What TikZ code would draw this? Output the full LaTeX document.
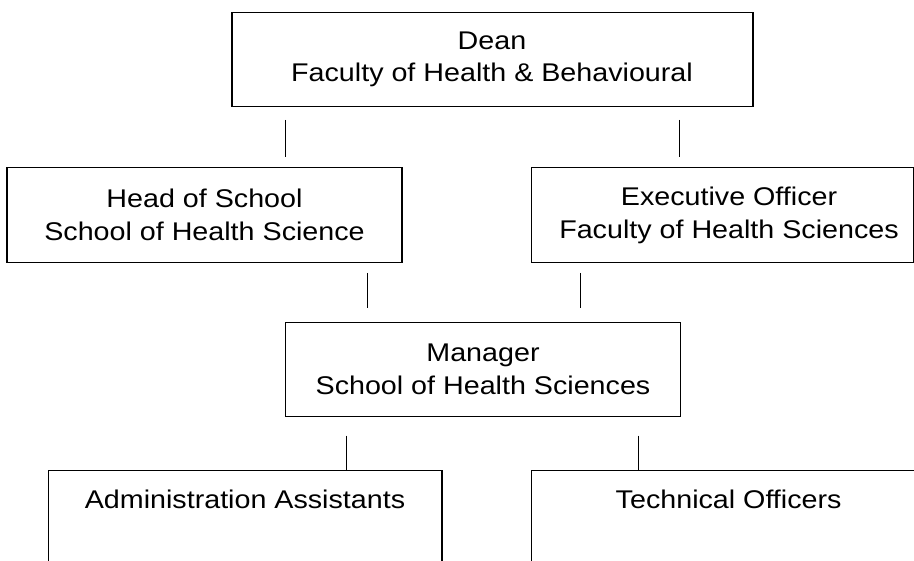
\documentclass[tikz,border=0pt]{standalone}
\usepackage{fontspec}
\setmainfont{Liberation Sans}[FakeStretch=1.12]
\begin{document}
\begin{tikzpicture}[x=1pt,y=-1pt,
  box/.style={draw, line width=1.5pt, inner sep=0pt},
  link/.style={line width=1pt},
  lbl/.style={font=\fontsize{25.6}{32.7}\selectfont, align=center, inner sep=0pt}]
\useasboundingbox (0,0) rectangle (914,561);
\clip (0,0) rectangle (914,561);
% boxes
\node[box, minimum width=521, minimum height=94.4] (dean) at (492.5,59.5) {};
\node[box, minimum width=395, minimum height=95] (head) at (204.5,215.2) {};
\node[box, minimum width=381.9, minimum height=95] (exec) at (722.55,215.2) {};
\node[box, minimum width=394.7, minimum height=94.4] (mgr) at (483,369.5) {};
\node[box, minimum width=393.6, minimum height=129.3] (admin) at (245.2,535.35) {};
\node[box, minimum width=418.4, minimum height=129.3] (tech) at (740.8,535.35) {};
% texts
\node[lbl] (deantxt) at (492,59.5) {Dean\\Faculty of Health \& Behavioural};
\node[lbl] (headtxt) at (204.5,215.2) {Head of School\\School of Health Science};
\node[lbl] (exectxt) at (729,215.2) {Executive Officer\\Faculty of Health Sciences};
\node[lbl] (mgrtxt) at (483,369.5) {Manager\\School of Health Sciences};
\node[lbl, anchor=base] (admintxt) at (245,508) {Administration Assistants};
\node[lbl, anchor=base] (techtxt) at (728.6,508) {Technical Officers};
% connectors
\coordinate (c1a) at (285.6,120); \coordinate (c1b) at (285.6,156.7);
\coordinate (c2a) at (679.7,120); \coordinate (c2b) at (679.7,156.7);
\coordinate (c3a) at (367,273);   \coordinate (c3b) at (367,308.3);
\coordinate (c4a) at (580,273);   \coordinate (c4b) at (580,308.3);
\coordinate (c5a) at (346.3,435.7);
\coordinate (c6a) at (638.3,435.7);
\draw[link] (c1a) -- (c1b);
\draw[link] (c2a) -- (c2b);
\draw[link] (c3a) -- (c3b);
\draw[link] (c4a) -- (c4b);
\draw[link] (c5a) -- (c5a |- admin.north);
\draw[link] (c6a) -- (c6a |- tech.north);
\end{tikzpicture}
\end{document}
